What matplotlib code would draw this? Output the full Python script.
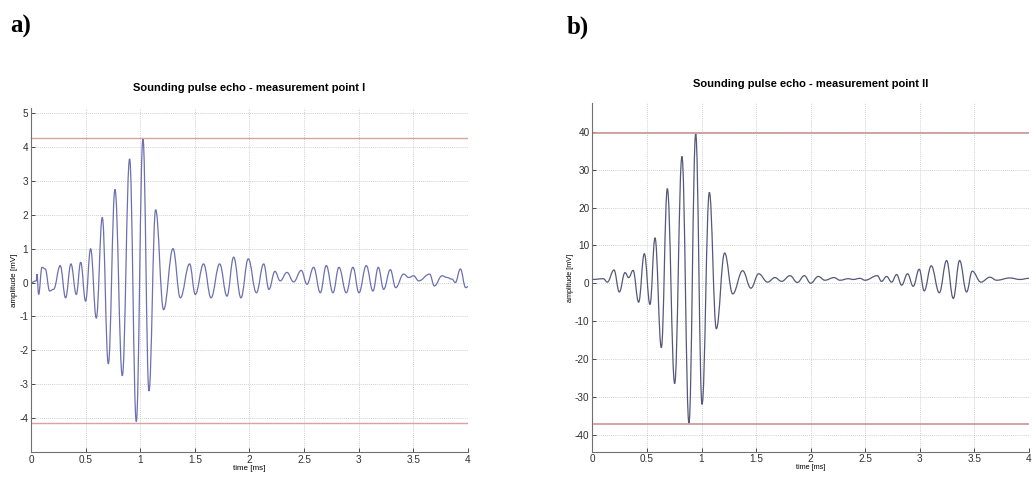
import numpy as np
import matplotlib
matplotlib.use("Agg")
from matplotlib import pyplot as plt
from matplotlib.path import Path
from matplotlib.patches import PathPatch

# extrema of the echo signals: time [ms], amplitude [mV]
t_a = [0.000, 0.049, 0.055, 0.070, 0.101, 0.131, 0.171, 0.207, 0.268, 0.317,
       0.366, 0.415, 0.455, 0.500, 0.546, 0.598, 0.653, 0.708, 0.769, 0.836,
       0.903, 0.964, 1.025, 1.080, 1.141, 1.214, 1.300, 1.367, 1.452, 1.504,
       1.580, 1.648, 1.727, 1.794, 1.855, 1.922, 1.989, 2.063, 2.130, 2.178,
       2.233, 2.281, 2.343, 2.404, 2.474, 2.526, 2.587, 2.648, 2.703, 2.764,
       2.819, 2.886, 2.947, 3.002, 3.069, 3.130, 3.179, 3.228, 3.289, 3.338,
       3.411, 3.457, 3.503, 3.548, 3.649, 3.692, 3.762, 3.808, 3.854, 3.884,
       3.930, 3.979, 4.000]
v_a = [0.00, 0.05, 0.25, -0.35, 0.45, 0.40, -0.25, -0.20, 0.50, -0.45,
       0.55, -0.35, 0.60, -0.55, 1.00, -1.05, 1.92, -2.40, 2.75, -2.75,
       3.65, -4.10, 4.25, -3.20, 2.15, -0.80, 1.00, -0.45, 0.55, -0.35,
       0.55, -0.45, 0.55, -0.40, 0.75, -0.45, 0.70, -0.30, 0.55, -0.20,
       0.33, 0.05, 0.30, 0.02, 0.36, -0.05, 0.45, -0.30, 0.50, -0.30,
       0.45, -0.30, 0.45, -0.30, 0.50, -0.25, 0.45, -0.20, 0.38, -0.15,
       0.25, 0.15, 0.20, 0.05, 0.25, -0.10, 0.20, 0.15, 0.10, 0.00,
       0.40, -0.15, -0.12]

t_b = [0.000, 0.101, 0.137, 0.198, 0.247, 0.299, 0.333, 0.373, 0.424, 0.476,
       0.528, 0.574, 0.632, 0.687, 0.754, 0.821, 0.885, 0.947, 1.005, 1.072,
       1.136, 1.212, 1.286, 1.377, 1.453, 1.524, 1.606, 1.673, 1.734, 1.811,
       1.878, 1.942, 2.000, 2.070, 2.131, 2.214, 2.269, 2.345, 2.391, 2.452,
       2.498, 2.611, 2.650, 2.696, 2.742, 2.788, 2.834, 2.888, 2.940, 2.995,
       3.041, 3.105, 3.179, 3.246, 3.307, 3.365, 3.429, 3.481, 3.560, 3.643,
       3.704, 3.826, 3.918, 4.000]
v_b = [1.0, 1.2, 0.3, 3.5, -2.3, 2.8, 1.5, 3.4, -5.0, 7.8,
       -5.6, 12.0, -17.0, 25.0, -26.5, 33.5, -37.0, 39.5, -32.0, 24.0,
       -12.0, 8.0, -2.8, 3.3, -1.3, 2.5, 0.3, 1.5, 0.5, 2.0,
       0.2, 2.0, 0.0, 1.8, 0.8, 1.5, 0.8, 1.2, 1.0, 1.3,
       0.8, 2.0, 0.5, 1.8, 0.3, 2.3, -0.5, 2.5, -0.8, 3.7,
       -2.0, 4.6, -2.5, 6.0, -4.0, 6.0, -2.3, 3.2, 0.3, 1.6,
       0.8, 1.4, 1.0, 1.3]

# max / min marker lines
lim_a = [4.28, -4.13]
lim_b = [39.6, -37.1]

xticks = [0, 0.5, 1, 1.5, 2, 2.5, 3, 3.5, 4]
xtick_labels = ["0", "0.5", "1", "1.5", "2", "2.5", "3", "3.5", "4"]

plt.rcParams['font.family'] = ['Liberation Sans', 'DejaVu Sans']
plt.rcParams['axes.unicode_minus'] = False


def wave(ax, t, v, color):
    # smooth curve through the extrema, flat tangent at each one
    verts = [(t[0], v[0])]
    codes = [Path.MOVETO]
    for i in range(1, len(t)):
        dt = t[i] - t[i-1]
        verts += [(t[i-1] + 0.4*dt, v[i-1]), (t[i] - 0.4*dt, v[i]), (t[i], v[i])]
        codes += [Path.CURVE4]*3
    ax.add_patch(PathPatch(Path(verts, codes), fill=False, edgecolor=color, lw=0.9))


def setup(ax, title, yticks, ylim, fs_lab):
    ax.set_xlim(0, 4)
    ax.set_ylim(*ylim)
    ax.set_xticks(xticks)
    ax.set_xticklabels(xtick_labels)
    ax.set_yticks(yticks)
    ax.grid(True, ls=(0, (1, 1.5)), color='#c0c0c0', lw=0.6)
    ax.set_axisbelow(True)
    for s in ['top', 'right']:
        ax.spines[s].set_visible(False)
    for s in ['left', 'bottom']:
        ax.spines[s].set_color('#707070')
        ax.spines[s].set_linewidth(0.8)
    ax.tick_params(direction='in', length=3, width=0.6, labelsize=7.2,
                   colors='#303030', pad=2)
    ax.set_title(title, fontsize=8, fontweight='bold', pad=12)
    ax.set_xlabel("time [ms]", fontsize=fs_lab, labelpad=0)
    ax.set_ylabel("amplitude [mV]", fontsize=fs_lab, labelpad=1)


fig = plt.figure(figsize=(10.32, 4.79), dpi=100)

ax1 = fig.add_axes([0.030, 0.0564, 0.4235, 0.718])
setup(ax1, "Sounding pulse echo - measurement point I", range(-4, 6), (-5, 5.15), 5.8)
for y in lim_a:
    ax1.axhline(y, color='#d9a3a3', lw=1.0)
wave(ax1, t_a, v_a, '#6c70b0')

ax2 = fig.add_axes([0.574, 0.057, 0.423, 0.727])
setup(ax2, "Sounding pulse echo - measurement point II", range(-40, 41, 10), (-44.5, 47.5), 5.2)
for y in lim_b:
    ax2.axhline(y, color='#c99595', lw=1.2)
wave(ax2, t_b, v_b, '#55587a')

fig.text(0.010, 0.944, "a)", fontsize=18, fontweight='bold', family='Liberation Serif', va='center')
fig.text(0.549, 0.944, "b)", fontsize=18, fontweight='bold', family='Liberation Serif', va='center')

fig.savefig("out.png", dpi=100, facecolor='white')
